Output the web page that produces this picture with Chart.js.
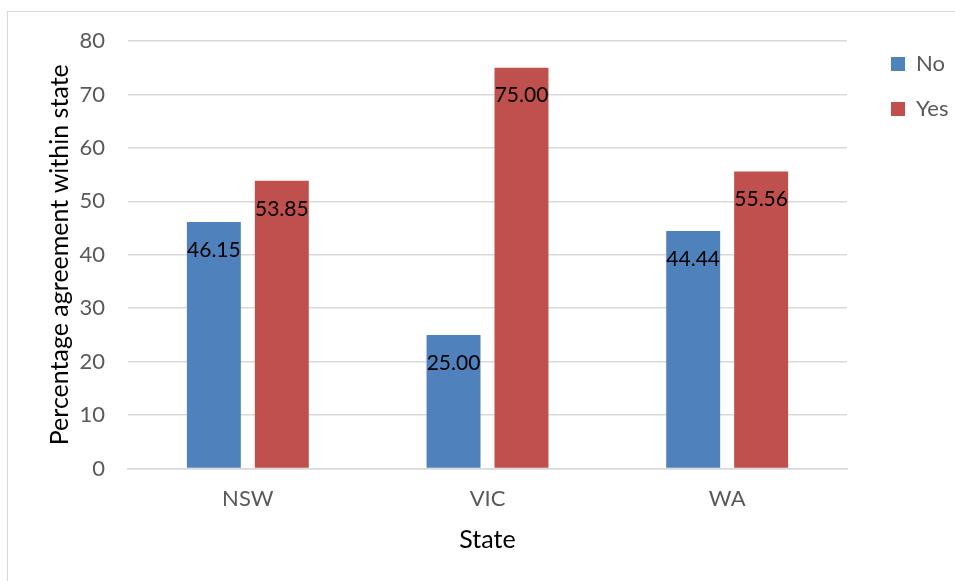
<!DOCTYPE html>
<html>
<head>
<meta charset="utf-8">
<script src="https://cdn.jsdelivr.net/npm/chart.js@4"></script>
<style>
html,body{margin:0;padding:0;background:#fff;}
#wrap{position:relative;width:955px;height:581px;}
canvas{display:block;}
</style>
</head>
<body>
<div id="wrap"><canvas id="c" width="955" height="581"></canvas></div>
<script>
const categories = ["NSW", "VIC", "WA"];
const noValues = [46.15, 25.00, 44.44];
const yesValues = [53.85, 75.00, 55.56];
const seriesNames = ["No", "Yes"];
const yTicks = [0, 10, 20, 30, 40, 50, 60, 70, 80];

const FONT = "Lato, 'Open Sans', sans-serif";

const frame = {
  id: 'frame',
  beforeDraw(chart) {
    const ctx = chart.ctx;
    ctx.save();
    ctx.fillStyle = '#fff';
    ctx.fillRect(0, 0, chart.width, chart.height);
    ctx.strokeStyle = '#d9d9d9';
    ctx.lineWidth = 1;
    ctx.strokeRect(7.5, 11.5, chart.width + 10, chart.height + 10);
    ctx.restore();
  }
};

const valueLabels = {
  id: 'valueLabels',
  afterDatasetsDraw(chart) {
    const ctx = chart.ctx;
    ctx.save();
    ctx.font = "21px " + FONT;
    ctx.fillStyle = '#000';
    ctx.textAlign = 'center';
    ctx.textBaseline = 'middle';
    chart.data.datasets.forEach((ds, i) => {
      const meta = chart.getDatasetMeta(i);
      meta.data.forEach((bar, j) => {
        ctx.fillText(ds.data[j].toFixed(2), bar.x, bar.y + 28);
      });
    });
    ctx.restore();
  }
};

new Chart(document.getElementById('c'), {
  type: 'bar',
  data: {
    labels: categories,
    datasets: [
      { label: seriesNames[0], data: noValues, backgroundColor: '#4f81bd', categoryPercentage: 0.567, barPercentage: 0.794 },
      { label: seriesNames[1], data: yesValues, backgroundColor: '#c0504d', categoryPercentage: 0.567, barPercentage: 0.794 }
    ]
  },
  options: {
    responsive: false,
    animation: false,
    devicePixelRatio: 1,
    layout: { padding: { top: 30, right: 0, bottom: 26, left: 40 } },
    plugins: {
      legend: {
        position: 'right',
        align: 'start',
        maxWidth: 87,
        labels: {
          boxWidth: 14, boxHeight: 14,
          color: '#595959',
          font: { family: FONT, size: 22 },
          padding: 23
        }
      },
      tooltip: { enabled: false }
    },
    scales: {
      x: {
        grid: { display: false, drawTicks: false },
        border: { display: true, color: '#d9d9d9', width: 1.5 },
        ticks: { color: '#595959', font: { family: FONT, size: 22 }, padding: 17 },
        title: { display: true, text: 'State', color: '#000', font: { family: FONT, size: 25 }, padding: { top: 0, bottom: 0 } },
        afterFit(s) { s.height = 86.5; }
      },
      xTopGap: {
        type: 'category', position: 'top', display: true,
        grid: { display: false, drawTicks: false }, border: { display: false },
        ticks: { display: false },
        afterFit(s) { s.height = 11; }
      },
      y: {
        min: 0, max: 80,
        afterBuildTicks(scale) { scale.ticks = yTicks.map(v => ({ value: v })); },
        grid: { color: '#d9d9d9', lineWidth: 1.5, drawTicks: false },
        border: { display: false },
        ticks: { color: '#595959', font: { family: FONT, size: 22 }, padding: 23 },
        title: { display: true, text: 'Percentage agreement within state', color: '#000', font: { family: FONT, size: 25 }, padding: { top: 5, bottom: 6 } },
        afterFit(s) { s.width = 88; }
      },
      yRightGap: {
        type: 'linear', position: 'right', display: true,
        grid: { display: false, drawTicks: false }, border: { display: false },
        ticks: { display: false },
        afterFit(s) { s.width = 21; }
      }
    }
  },
  plugins: [frame, valueLabels]
});
</script>
</body>
</html>
